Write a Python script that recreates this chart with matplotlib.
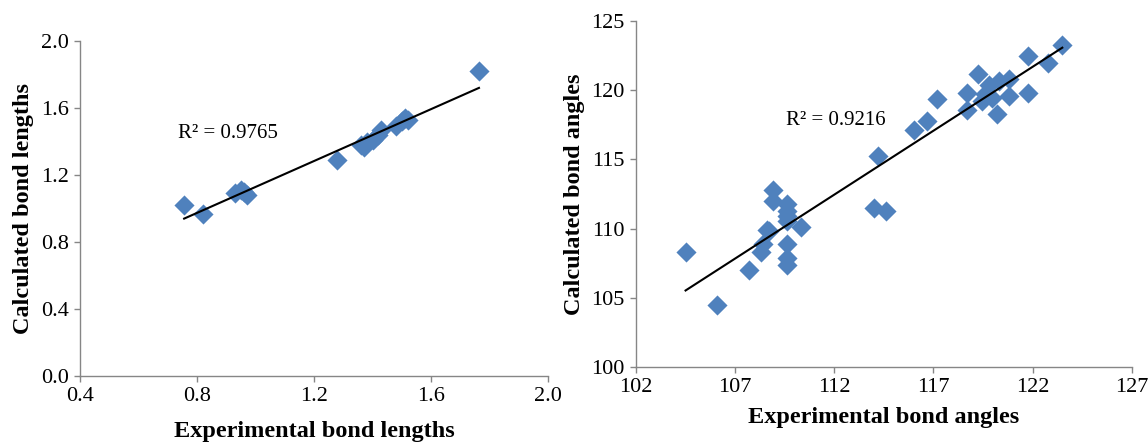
import numpy as np
import matplotlib
matplotlib.use("Agg")
import matplotlib.pyplot as plt

plt.rcParams['font.family'] = ['Liberation Serif', 'DejaVu Serif']

# ---- data: bond lengths ----
exp_len = [0.756, 0.82, 0.93, 0.96, 0.97, 0.95, 1.28, 1.36, 1.38, 1.37, 1.40,
           1.42, 1.43, 1.48, 1.50, 1.52, 1.51, 1.764]
calc_len = [1.02, 0.97, 1.09, 1.10, 1.08, 1.11, 1.29, 1.38, 1.40, 1.37, 1.41,
            1.44, 1.47, 1.49, 1.52, 1.53, 1.54, 1.82]
r2_len = "R² = 0.9765"

# ---- data: bond angles ----
exp_ang = [104.5, 106.1, 107.7, 108.3, 108.7, 108.6, 108.4, 108.9, 108.9,
           109.6, 109.6, 109.6, 109.6, 110.3, 109.6, 109.6, 109.6, 114.0, 114.6,
           114.2, 116.0, 116.7, 117.2, 118.7, 118.7, 119.25, 119.6, 119.8, 120.3,
           120.8, 120.8, 119.45, 119.96, 120.2, 121.75, 121.75, 122.8, 123.5]
calc_ang = [108.3, 104.5, 107.0, 108.3, 109.8, 109.9, 108.9, 112.8, 112.0,
            111.75, 111.27, 110.9, 110.55, 110.1, 108.87, 107.9, 107.4, 111.5, 111.3,
            115.25, 117.1, 117.8, 119.4, 119.8, 118.6, 121.2, 119.7, 120.4, 120.7,
            120.8, 119.6, 119.2, 119.46, 118.26, 119.77, 122.5, 122.0, 123.3]
r2_ang = "R² = 0.9216"

len_xticks = [0.4, 0.8, 1.2, 1.6, 2.0]
len_yticks = [0.0, 0.4, 0.8, 1.2, 1.6, 2.0]
ang_xticks = [102, 107, 112, 117, 122, 127]
ang_yticks = [100, 105, 110, 115, 120, 125]

W, H = 1148, 445
fig = plt.figure(figsize=(W / 100, H / 100), dpi=100)

ax1 = fig.add_axes([80 / W, (H - 376) / H, 468 / W, 335 / H])
ax2 = fig.add_axes([636 / W, (H - 367) / H, 495.7 / W, 346 / H])

blue = '#4F81BD'
spine_c = '#868686'
tick_fs = 16
r2_fs = 15
label_fs = 17.5


def style(ax):
    for s in ['top', 'right']:
        ax.spines[s].set_visible(False)
    for s in ['left', 'bottom']:
        ax.spines[s].set_color(spine_c)
        ax.spines[s].set_linewidth(1.0)
    ax.tick_params(direction='out', length=4, width=1.0, color=spine_c,
                   labelsize=tick_fs, pad=4)


def trend(ax, x, y):
    x = np.asarray(x)
    y = np.asarray(y)
    m, b = np.polyfit(x, y, 1)
    xs = np.array([x.min(), x.max()])
    ax.plot(xs, m * xs + b, color='black', lw=1.5, zorder=3)


# left chart
ax1.scatter(exp_len, calc_len, marker='D', s=105, color=blue, linewidths=0, zorder=2)
trend(ax1, exp_len, calc_len)
ax1.set_xlim(0.4, 2.0)
ax1.set_ylim(0.0, 2.0)
ax1.set_xticks(len_xticks)
ax1.set_yticks(len_yticks)
ax1.set_xticklabels([f"{v:.1f}" for v in len_xticks])
ax1.set_yticklabels([f"{v:.1f}" for v in len_yticks])
style(ax1)
ax1.set_xlabel("Experimental bond lengths", fontsize=label_fs, fontweight='bold', labelpad=11)
ax1.set_ylabel("Calculated bond lengths", fontsize=label_fs, fontweight='bold', labelpad=5)
ax1.text(0.735, 1.445, r2_len, fontsize=r2_fs, va='center', ha='left')

# right chart
ax2.scatter(exp_ang, calc_ang, marker='D', s=105, color=blue, linewidths=0, zorder=2)
trend(ax2, exp_ang, calc_ang)
ax2.set_xlim(102, 127)
ax2.set_ylim(100, 125)
ax2.set_xticks(ang_xticks)
ax2.set_yticks(ang_yticks)
style(ax2)
ax2.set_xlabel("Experimental bond angles", fontsize=label_fs, fontweight='bold', labelpad=7)
ax2.set_ylabel("Calculated bond angles", fontsize=label_fs, fontweight='bold', labelpad=5)
ax2.text(109.55, 117.8, r2_ang, fontsize=r2_fs, va='center', ha='left')

fig.savefig("out.png", dpi=100)
